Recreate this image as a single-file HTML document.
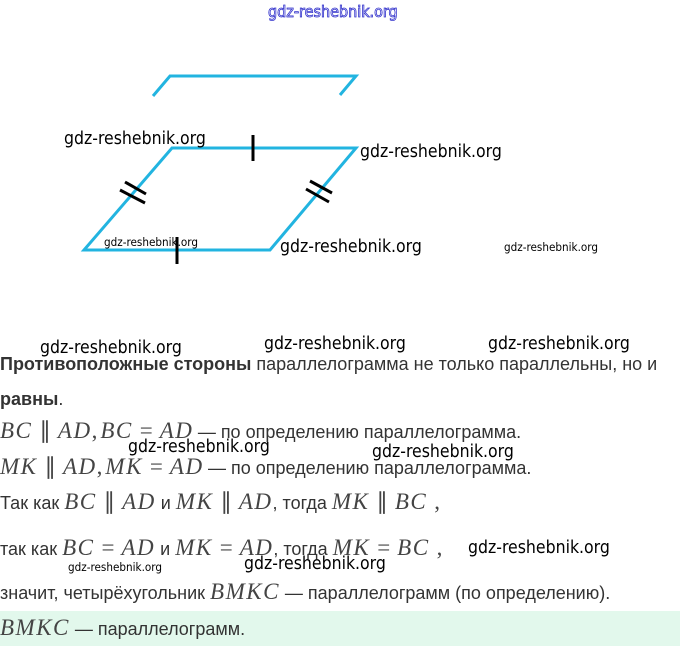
<!DOCTYPE html>
<html><head><meta charset="utf-8"><style>
body{margin:0;width:680px;height:646px;background:#fff;position:relative;overflow:hidden;font-family:"Liberation Sans","DejaVu Sans",sans-serif;}
.a{position:absolute;white-space:nowrap;}
.w{font-family:"DejaVu Sans Condensed","Liberation Sans",sans-serif;color:#000;font-size:17.5px;}
.s{font-size:11.6px;}
.t{font-size:18px;color:#333;}
.m{font-family:"Liberation Serif",serif;font-style:italic;font-size:23px;color:#444;letter-spacing:1.5px;}
.n{font-family:"Liberation Serif",serif;font-size:23px;color:#444;padding:0 7px;}
</style></head><body>
<div class="a" style="left:268px;top:2px;font-size:16px;color:#fff;-webkit-text-stroke:0.8px #3333cc;font-family:'DejaVu Sans Condensed',sans-serif;">gdz-reshebnik.org</div>
<svg class="a" style="left:0;top:0" width="680" height="300">
<g stroke="#22b4e0" stroke-width="3" fill="none">
<polyline points="153,96 170,76 356,76 340,95"/>
<polygon points="172,148 356,148 270,250 84,250"/>
</g>
<g stroke="#000" stroke-width="3">
<line x1="253" y1="135" x2="253" y2="161"/>
<line x1="177" y1="237" x2="177" y2="264"/>
<line x1="120" y1="190" x2="145" y2="203"/>
<line x1="125" y1="182" x2="146" y2="194"/>
<line x1="306" y1="189" x2="329" y2="202"/>
<line x1="310" y1="181" x2="332" y2="193"/>
</g>
</svg>
<div class="a w" style="left:64px;top:129px;">gdz-reshebnik.org</div>
<div class="a w" style="left:360px;top:142px;">gdz-reshebnik.org</div>
<div class="a w s" style="left:104px;top:235px;">gdz-reshebnik.org</div>
<div class="a w" style="left:280px;top:237px;">gdz-reshebnik.org</div>
<div class="a w s" style="left:504px;top:240px;">gdz-reshebnik.org</div>
<div class="a w" style="left:264px;top:334px;">gdz-reshebnik.org</div>
<div class="a w" style="left:488px;top:334px;">gdz-reshebnik.org</div>
<div class="a w" style="left:40px;top:338px;">gdz-reshebnik.org</div>
<div class="a t" style="left:0;top:354px;"><b>Противоположные стороны</b> параллелограмма не только параллельны, но и</div>
<div class="a t" style="left:0;top:389px;"><b>равны</b>.</div>
<div class="a" style="left:0;top:418px;"><span class="m">BC</span><span class="n">∥</span><span class="m">AD</span><span class="n" style="padding:0 3px 0 0">,</span><span class="m">BC</span><span class="n">=</span><span class="m">AD</span> <span class="t">— по определению параллелограмма.</span></div>
<div class="a w" style="left:128px;top:437px;">gdz-reshebnik.org</div>
<div class="a w" style="left:372px;top:442px;">gdz-reshebnik.org</div>
<div class="a" style="left:0;top:454px;"><span class="m">MK</span><span class="n">∥</span><span class="m">AD</span><span class="n" style="padding:0 3px 0 0">,</span><span class="m">MK</span><span class="n">=</span><span class="m">AD</span> <span class="t">— по определению параллелограмма.</span></div>
<div class="a" style="left:0;top:489px;"><span class="t">Так как </span><span class="m">BC</span><span class="n">∥</span><span class="m">AD</span><span class="t"> и </span><span class="m">MK</span><span class="n">∥</span><span class="m">AD</span><span class="t">, тогда </span><span class="m">MK</span><span class="n">∥</span><span class="m">BC</span><span class="n">,</span></div>
<div class="a" style="left:0;top:535px;"><span class="t">так как </span><span class="m">BC</span><span class="n">=</span><span class="m">AD</span><span class="t"> и </span><span class="m">MK</span><span class="n">=</span><span class="m">AD</span><span class="t">, тогда </span><span class="m">MK</span><span class="n">=</span><span class="m">BC</span><span class="n">,</span></div>
<div class="a w" style="left:468px;top:538px;">gdz-reshebnik.org</div>
<div class="a w s" style="left:68px;top:560px;">gdz-reshebnik.org</div>
<div class="a w" style="left:244px;top:554px;">gdz-reshebnik.org</div>
<div class="a" style="left:0;top:579px;"><span class="t">значит, четырёхугольник </span><span class="m">BMKC</span><span class="t"> — параллелограмм (по определению).</span></div>
<div class="a" style="left:0;top:611px;width:680px;height:35px;background:#e2f8ec;"></div>
<div class="a" style="left:0;top:615px;"><span class="m">BMKC</span><span class="t"> — параллелограмм.</span></div>
</body></html>
